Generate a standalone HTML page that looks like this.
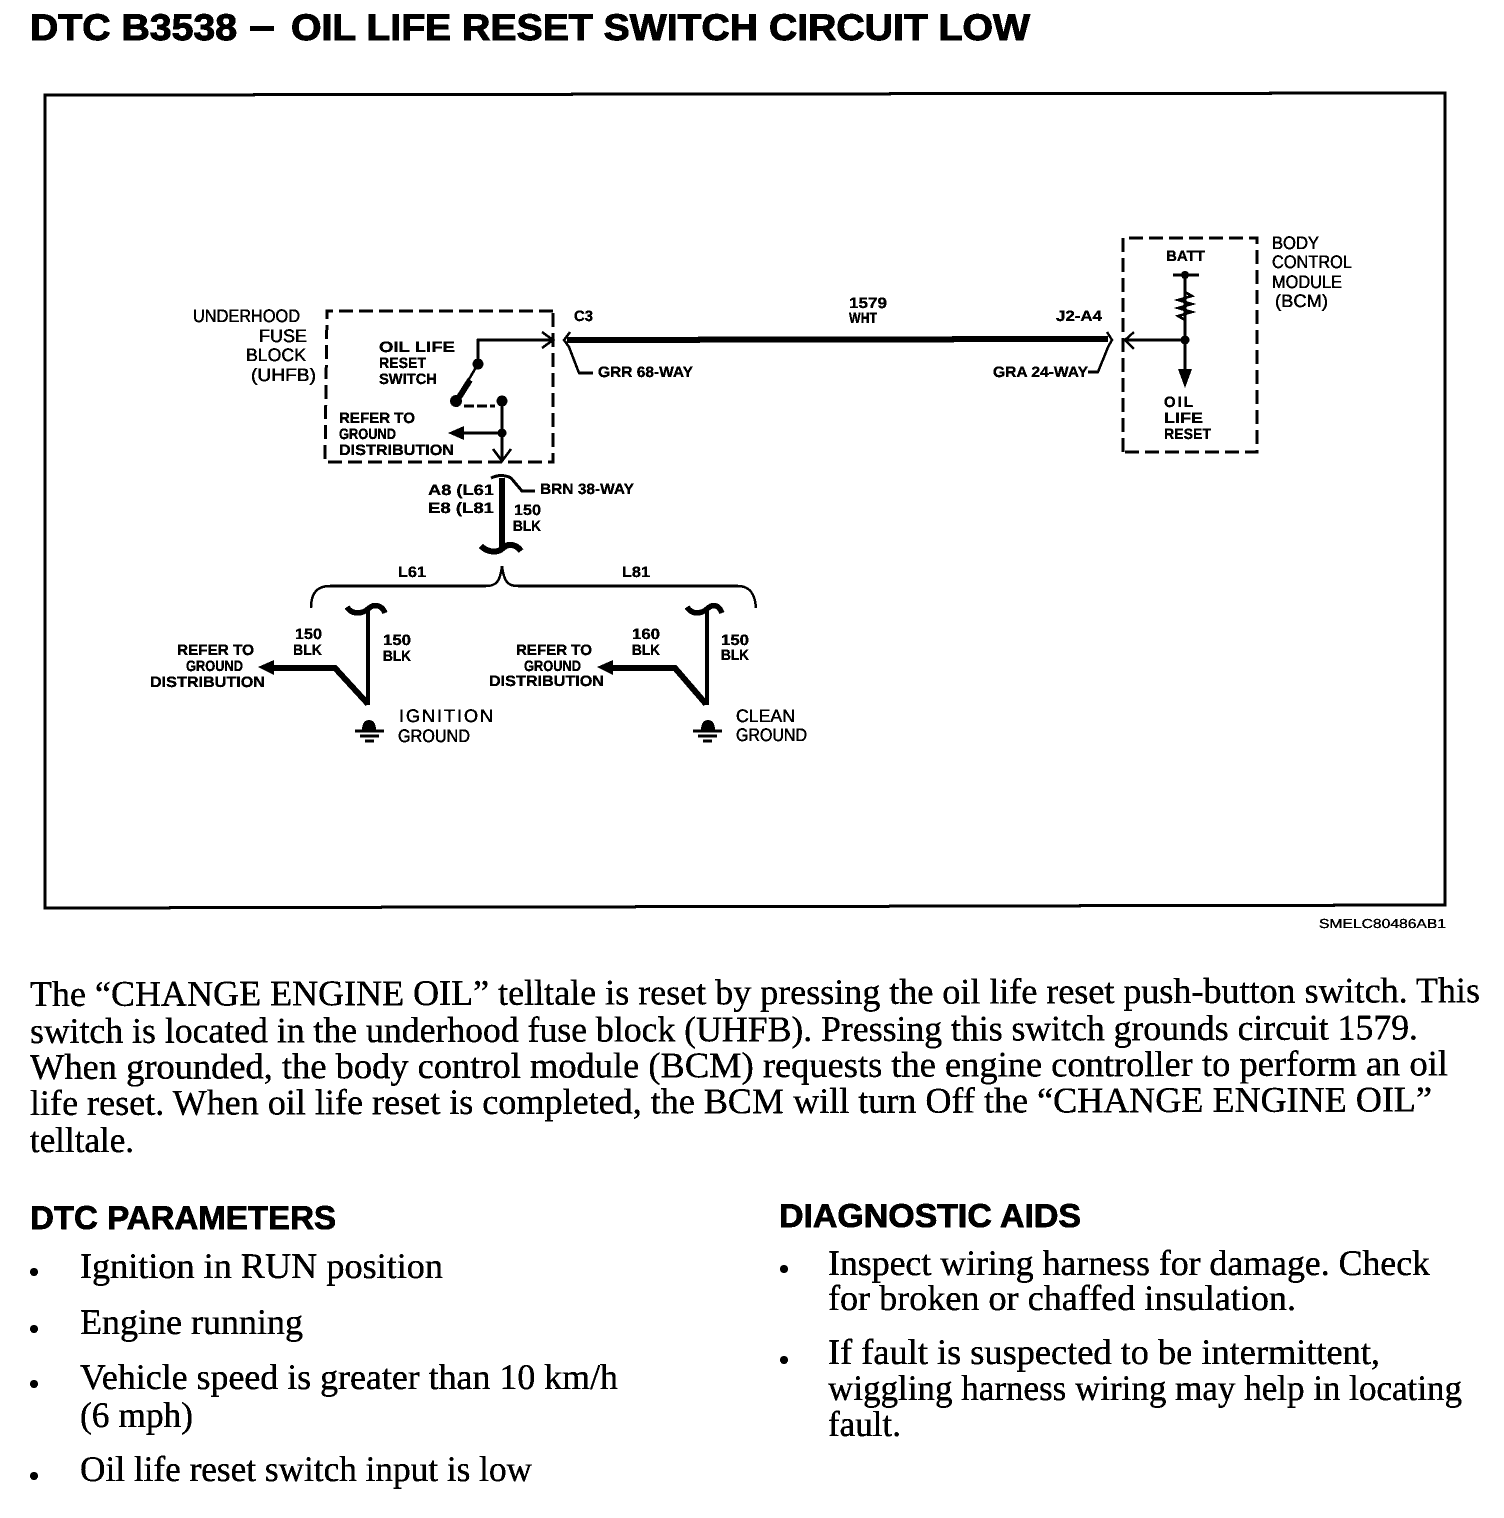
<!DOCTYPE html>
<html lang="en"><head><meta charset="utf-8"><title>DTC B3538</title>
<style>
html,body{margin:0;padding:0;background:#fff;width:1504px;height:1518px;overflow:hidden}
svg{display:block;text-rendering:geometricPrecision}
.t{font-family:"Liberation Sans",sans-serif;font-weight:700;fill:#000}
.h{font-size:37px;stroke:#000;stroke-width:1px}
.sub{font-size:33px;stroke:#000;stroke-width:.8px}
.b{font-family:"Liberation Serif",serif;font-size:36px;fill:#000;stroke:#000;stroke-width:.4px}
.l{font-family:"Liberation Sans",sans-serif;font-size:18px;fill:#000;stroke:#000;stroke-width:.5px}
.s{font-family:"Liberation Sans",sans-serif;font-weight:700;font-size:15px;fill:#000;stroke:#000;stroke-width:.3px}
.w{fill:none;stroke:#000}
</style></head><body>
<svg width="1504" height="1518" viewBox="0 0 1504 1518" xmlns="http://www.w3.org/2000/svg">
<defs><filter id="bw" x="0" y="0" width="100%" height="100%" color-interpolation-filters="sRGB"><feComponentTransfer><feFuncR type="discrete" tableValues="0 1"/><feFuncG type="discrete" tableValues="0 1"/><feFuncB type="discrete" tableValues="0 1"/></feComponentTransfer></filter></defs>
<g filter="url(#bw)">
<rect width="1504" height="1518" fill="#fff"/>
<text class="t h" x="30" y="40" textLength="207" lengthAdjust="spacingAndGlyphs">DTC B3538</text>
<rect x="250" y="26" width="24" height="5"/>
<text class="t h" x="291" y="40" textLength="739" lengthAdjust="spacingAndGlyphs">OIL LIFE RESET SWITCH CIRCUIT LOW</text>

<path class="w" stroke-width="3" d="M45,95 L1445,93 L1445,905 L45,908 Z"/>
<text class="s" x="1319" y="928" textLength="127" lengthAdjust="spacingAndGlyphs" style="font-size:13px;font-weight:400">SMELC80486AB1</text>

<!-- UHFB -->
<path class="w" stroke-width="3" stroke-dasharray="14 6" d="M553,311 L327,311 L325,462 L553,462 Z"/>
<path class="w" stroke-width="2.5" d="M478,364 V340 H552 M542,332 L553,340 L542,348"/>
<circle cx="478" cy="364" r="5.5"/>
<path class="w" stroke-width="2.5" d="M478,364 L456,401"/>
<path class="w" stroke-width="6" d="M470,380 L458,399"/>
<circle cx="456" cy="401" r="6"/>
<path class="w" stroke-width="2.5" stroke-dasharray="10 3" d="M464,406 H495"/>
<circle cx="502" cy="401" r="5.5"/>
<path class="w" stroke-width="2.5" d="M502,401 V461 M493,449 L502,461 L511,449 M502,433 H462"/>
<circle cx="502" cy="433" r="4.5"/>
<path d="M448,433 L464,426 V440 Z"/>

<!-- Main wire -->
<path class="w" stroke-width="6" d="M567,340 L1108,339"/>
<path class="w" stroke-width="2.5" d="M570,332 L564,340 L569,347 L579,373 H593"/>
<path class="w" stroke-width="2.5" d="M1107,332 L1112,340 L1108,347 L1098,372 H1088"/>

<!-- BCM -->
<path class="w" stroke-width="3" stroke-dasharray="14 6" d="M1123,452 L1123,238 L1257,238 L1257,452 Z"/>
<path class="w" stroke-width="2.5" d="M1185,340 H1125 M1134,332 L1125,340 L1134,349 M1185,275 V374"/>
<circle cx="1185" cy="340" r="4.5"/>
<path class="w" stroke-width="3" d="M1173,275 H1199"/>
<circle cx="1185" cy="275" r="4"/>
<path class="w" stroke-width="2.5" d="M1185,292 L1192,296 L1178,300 L1192,304 L1178,308 L1192,312 L1178,316 L1185,320"/>
<path d="M1178,369 L1192,369 L1185,388 Z"/>

<!-- Drop from UHFB -->
<path class="w" stroke-width="6" d="M502,478 V548"/>
<path class="w" stroke-width="3" d="M491,478 Q502,473 511,478 L522,491 H535"/>
<path class="w" stroke-width="6" d="M481,546 C488,553 498,553 503,548 C508,543 516,544 521,551"/>
<path class="w" stroke-width="2.5" d="M311,608 C311,592 318,586 330,586 L486,586 C496,586 500,582 502,566 C504,582 508,586 518,586 L738,586 C750,586 755,594 756,608"/>

<!-- Left ground -->
<path class="w" stroke-width="5.5" d="M347,607 C352,615 362,614 368,609 C374,603 382,605 385,613"/>
<path class="w" stroke-width="4" d="M368,609 V705"/>
<path class="w" stroke-width="6" d="M368,704 L335,668 H272"/>
<path d="M258,667 L274,660 V675 Z"/>
<path d="M362,730 C362,722 366,720 369,720 C372,720 376,722 376,730 Z"/>
<path class="w" stroke-width="2.5" d="M355,731 H384 M360,736 H379 M365,741 H374"/>

<!-- Right ground -->
<path class="w" stroke-width="5.5" d="M687,607 C692,615 701,614 707,609 C713,603 719,605 722,613"/>
<path class="w" stroke-width="3.5" d="M707,609 V705"/>
<path class="w" stroke-width="6" d="M706,704 L675,668 H612"/>
<path d="M597,667 L613,660 V675 Z"/>
<path d="M701,730 C701,722 705,720 708,720 C711,720 715,722 715,730 Z"/>
<path class="w" stroke-width="2.5" d="M693,731 H722 M698,736 H717 M703,741 H712"/>

<!-- Labels -->
<g>
<text class="l" x="193" y="322" textLength="107" lengthAdjust="spacingAndGlyphs">UNDERHOOD</text>
<text class="l" x="259" y="342" textLength="48" lengthAdjust="spacingAndGlyphs">FUSE</text>
<text class="l" x="246" y="361" textLength="60" lengthAdjust="spacingAndGlyphs">BLOCK</text>
<text class="l" x="251" y="381" textLength="65" lengthAdjust="spacingAndGlyphs">(UHFB)</text>
<text class="s" x="574" y="321" textLength="19" lengthAdjust="spacingAndGlyphs">C3</text>
<text class="s" x="849" y="308" textLength="38" lengthAdjust="spacingAndGlyphs">1579</text>
<text class="s" x="849" y="323" textLength="28" lengthAdjust="spacingAndGlyphs">WHT</text>
<text class="s" x="1056" y="321" textLength="46" lengthAdjust="spacingAndGlyphs">J2-A4</text>
<text class="s" x="598" y="377" textLength="95" lengthAdjust="spacingAndGlyphs">GRR 68-WAY</text>
<text class="s" x="993" y="377" textLength="95" lengthAdjust="spacingAndGlyphs">GRA 24-WAY</text>
<text class="s" x="379" y="352" textLength="76" lengthAdjust="spacingAndGlyphs">OIL LIFE</text>
<text class="s" x="379" y="368" textLength="47" lengthAdjust="spacingAndGlyphs">RESET</text>
<text class="s" x="379" y="384" textLength="58" lengthAdjust="spacingAndGlyphs">SWITCH</text>
<text class="s" x="339" y="423" textLength="76" lengthAdjust="spacingAndGlyphs">REFER TO</text>
<text class="s" x="339" y="439" textLength="57" lengthAdjust="spacingAndGlyphs">GROUND</text>
<text class="s" x="339" y="455" textLength="115" lengthAdjust="spacingAndGlyphs">DISTRIBUTION</text>
<text class="s" x="428" y="495" textLength="66" lengthAdjust="spacingAndGlyphs">A8 (L61</text>
<text class="s" x="428" y="513" textLength="66" lengthAdjust="spacingAndGlyphs">E8 (L81</text>
<text class="s" x="540" y="494" textLength="94" lengthAdjust="spacingAndGlyphs">BRN 38-WAY</text>
<text class="s" x="514" y="515" textLength="27" lengthAdjust="spacingAndGlyphs">150</text>
<text class="s" x="513" y="531" textLength="28" lengthAdjust="spacingAndGlyphs">BLK</text>
<text class="s" x="398" y="577" textLength="28" lengthAdjust="spacingAndGlyphs">L61</text>
<text class="s" x="622" y="577" textLength="28" lengthAdjust="spacingAndGlyphs">L81</text>
<text class="s" x="295" y="639" textLength="27" lengthAdjust="spacingAndGlyphs">150</text>
<text class="s" x="293" y="655" textLength="29" lengthAdjust="spacingAndGlyphs">BLK</text>
<text class="s" x="383" y="645" textLength="28" lengthAdjust="spacingAndGlyphs">150</text>
<text class="s" x="383" y="661" textLength="28" lengthAdjust="spacingAndGlyphs">BLK</text>
<text class="s" x="177" y="655" textLength="77" lengthAdjust="spacingAndGlyphs">REFER TO</text>
<text class="s" x="186" y="671" textLength="57" lengthAdjust="spacingAndGlyphs">GROUND</text>
<text class="s" x="150" y="687" textLength="115" lengthAdjust="spacingAndGlyphs">DISTRIBUTION</text>
<text class="s" x="632" y="639" textLength="28" lengthAdjust="spacingAndGlyphs">160</text>
<text class="s" x="632" y="655" textLength="28" lengthAdjust="spacingAndGlyphs">BLK</text>
<text class="s" x="721" y="645" textLength="28" lengthAdjust="spacingAndGlyphs">150</text>
<text class="s" x="721" y="660" textLength="28" lengthAdjust="spacingAndGlyphs">BLK</text>
<text class="s" x="516" y="655" textLength="76" lengthAdjust="spacingAndGlyphs">REFER TO</text>
<text class="s" x="524" y="671" textLength="57" lengthAdjust="spacingAndGlyphs">GROUND</text>
<text class="s" x="489" y="686" textLength="115" lengthAdjust="spacingAndGlyphs">DISTRIBUTION</text>
<text class="l" x="399" y="722" textLength="94" lengthAdjust="spacing">IGNITION</text>
<text class="l" x="398" y="742" textLength="72" lengthAdjust="spacingAndGlyphs">GROUND</text>
<text class="l" x="736" y="722" textLength="59" lengthAdjust="spacingAndGlyphs">CLEAN</text>
<text class="l" x="736" y="741" textLength="71" lengthAdjust="spacingAndGlyphs">GROUND</text>
<text class="l" x="1272" y="249" textLength="47" lengthAdjust="spacingAndGlyphs">BODY</text>
<text class="l" x="1272" y="268" textLength="80" lengthAdjust="spacingAndGlyphs">CONTROL</text>
<text class="l" x="1272" y="288" textLength="70" lengthAdjust="spacingAndGlyphs">MODULE</text>
<text class="l" x="1275" y="307" textLength="53" lengthAdjust="spacingAndGlyphs">(BCM)</text>
<text class="s" x="1166" y="261" textLength="39" lengthAdjust="spacingAndGlyphs">BATT</text>
<text class="s" x="1164" y="407" textLength="29" lengthAdjust="spacing">OIL</text>
<text class="s" x="1164" y="423" textLength="39" lengthAdjust="spacingAndGlyphs">LIFE</text>
<text class="s" x="1164" y="439" textLength="47" lengthAdjust="spacingAndGlyphs">RESET</text>
</g>

<!-- Body text -->
<text class="b" x="30" y="1006" transform="rotate(-.15 30 1006)" textLength="1450" lengthAdjust="spacingAndGlyphs">The “CHANGE ENGINE OIL” telltale is reset by pressing the oil life reset push-button switch. This</text>
<text class="b" x="30" y="1043" transform="rotate(-.15 30 1043)" textLength="1388" lengthAdjust="spacingAndGlyphs">switch is located in the underhood fuse block (UHFB). Pressing this switch grounds circuit 1579.</text>
<text class="b" x="30" y="1079" transform="rotate(-.15 30 1079)" textLength="1418" lengthAdjust="spacingAndGlyphs">When grounded, the body control module (BCM) requests the engine controller to perform an oil</text>
<text class="b" x="30" y="1115" transform="rotate(-.15 30 1115)" textLength="1402" lengthAdjust="spacingAndGlyphs">life reset. When oil life reset is completed, the BCM will turn Off the “CHANGE ENGINE OIL”</text>
<text class="b" x="30" y="1152" textLength="104" lengthAdjust="spacingAndGlyphs">telltale.</text>

<text class="t sub" x="30" y="1229" textLength="306" lengthAdjust="spacingAndGlyphs">DTC PARAMETERS</text>
<text class="t sub" x="779" y="1227" textLength="302" lengthAdjust="spacingAndGlyphs">DIAGNOSTIC AIDS</text>

<g>
<circle cx="34" cy="1272" r="4"/><circle cx="34" cy="1329" r="4"/><circle cx="34" cy="1384" r="4"/><circle cx="34" cy="1476" r="4"/>
<circle cx="784" cy="1269" r="4"/><circle cx="784" cy="1360" r="4"/>
</g>
<text class="b" x="80" y="1278" textLength="363" lengthAdjust="spacingAndGlyphs">Ignition in RUN position</text>
<text class="b" x="80" y="1334" textLength="223" lengthAdjust="spacingAndGlyphs">Engine running</text>
<text class="b" x="80" y="1389" textLength="538" lengthAdjust="spacingAndGlyphs">Vehicle speed is greater than 10 km/h</text>
<text class="b" x="80" y="1427" textLength="113" lengthAdjust="spacingAndGlyphs">(6 mph)</text>
<text class="b" x="80" y="1481" textLength="452" lengthAdjust="spacingAndGlyphs">Oil life reset switch input is low</text>
<text class="b" x="828" y="1275" textLength="602" lengthAdjust="spacingAndGlyphs">Inspect wiring harness for damage. Check</text>
<text class="b" x="828" y="1310" textLength="468" lengthAdjust="spacingAndGlyphs">for broken or chaffed insulation.</text>
<text class="b" x="828" y="1364" textLength="552" lengthAdjust="spacingAndGlyphs">If fault is suspected to be intermittent,</text>
<text class="b" x="828" y="1400" textLength="634" lengthAdjust="spacingAndGlyphs">wiggling harness wiring may help in locating</text>
<text class="b" x="828" y="1436" textLength="73" lengthAdjust="spacingAndGlyphs">fault.</text>
</g>
</svg>
</body></html>
